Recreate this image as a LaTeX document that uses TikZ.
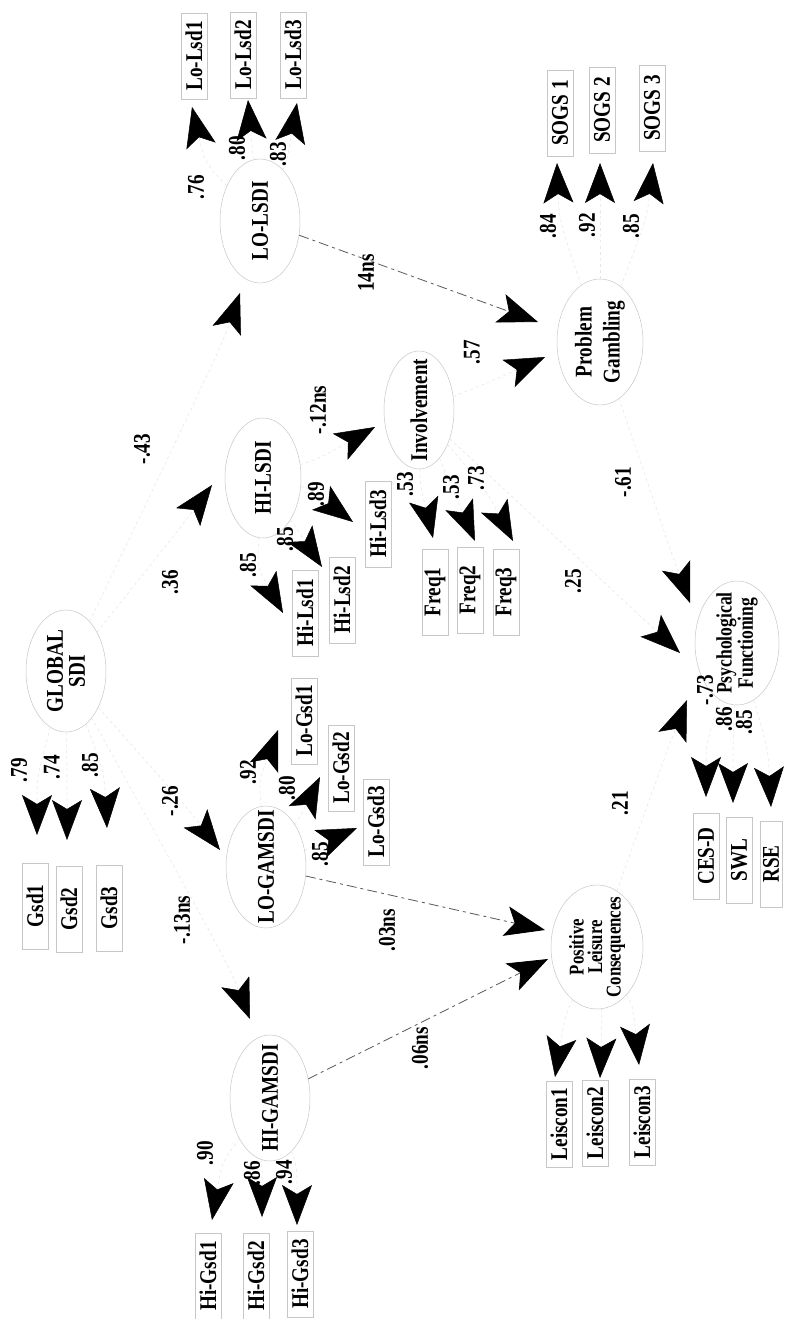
\documentclass[tikz,border=0pt]{standalone}
\usepackage{fontspec}
\setmainfont{Liberation Serif}[FakeStretch=0.8]
\usetikzlibrary{arrows.meta,shapes.geometric}
\begin{document}
\begin{tikzpicture}[x=1pt,y=-1pt,
  txt/.style={rotate=90,font=\bfseries\fontsize{24}{27}\selectfont,inner sep=0pt,align=center},
  small/.style={font=\bfseries\fontsize{21}{18.5}\selectfont},
  obs/.style={txt,draw=black!22,line width=0.5pt,minimum width=86pt,minimum height=26pt},
  lat/.style={rotate=90,ellipse,draw=black!22,line width=0.5pt,inner sep=0pt},
  lab/.style={txt},
  tipc/.style={-{Stealth[length=40pt,width=30pt,inset=9pt,color=black]}},
  conn/.style={tipc,draw=black!10,line width=0.5pt,dashed},
  vis/.style={tipc,draw=black!65,line width=0.8pt,dash pattern=on 10pt off 4pt on 3pt off 4pt}
]
\fill[white] (0,0) rectangle (784,1319);
\useasboundingbox (0,0) rectangle (784,1319);

% latent variables
\node[lat,minimum width=124pt,minimum height=80pt] (LOLSDI) at (260,221) {};
\node[txt] (LOLSDIt) at (LOLSDI) {LO-LSDI};
\node[lat,minimum width=120pt,minimum height=76pt] (HILSDI) at (263,478) {};
\node[txt] (HILSDIt) at (HILSDI) {HI-LSDI};
\node[lat,minimum width=122pt,minimum height=80pt] (GLOBAL) at (66,671) {};
\node[txt,font=\bfseries\fontsize{24}{22}\selectfont] (GLOBALt) at (GLOBAL) {GLOBAL\\SDI};
\node[lat,minimum width=122pt,minimum height=80pt] (LOGAM) at (266,867) {};
\node[txt] (LOGAMt) at (LOGAM) {LO-GAMSDI};
\node[lat,minimum width=126pt,minimum height=80pt] (HIGAM) at (270,1098) {};
\node[txt] (HIGAMt) at (HIGAM) {HI-GAMSDI};
\node[lat,minimum width=118pt,minimum height=70pt] (INV) at (419,410) {};
\node[txt] (INVt) at (INV) {Involvement};
\node[lat,minimum width=126pt,minimum height=86pt] (PG) at (600,342) {};
\node[txt,font=\bfseries\fontsize{24}{28}\selectfont] (PGt) at (PG) {Problem\\Gambling};
\node[lat,minimum width=124pt,minimum height=92pt] (PLC) at (597,947) {};
\node[txt,small] (PLCt) at (PLC) {Positive\\Leisure\\Consequences};
\node[lat,minimum width=124pt,minimum height=84pt] (PF) at (737,643) {};
\node[txt,font=\bfseries\fontsize{22}{19}\selectfont] (PFt) at (PF) {Psychological\\Functioning};

% observed variables
\node[obs] (LoLsd1) at (194,56) {Lo-Lsd1};
\node[obs] (LoLsd2) at (243,55) {Lo-Lsd2};
\node[obs] (LoLsd3) at (293,55) {Lo-Lsd3};
\node[obs] (SOGS1) at (560,113) {SOGS 1};
\node[obs] (SOGS2) at (602,110) {SOGS 2};
\node[obs] (SOGS3) at (652,108) {SOGS 3};
\node[obs] (HiLsd1) at (305,613) {Hi-Lsd1};
\node[obs] (HiLsd2) at (342,600) {Hi-Lsd2};
\node[obs] (HiLsd3) at (378,524) {Hi-Lsd3};
\node[obs] (Freq1) at (435,592) {Freq1};
\node[obs] (Freq2) at (470,590) {Freq2};
\node[obs] (Freq3) at (506,592) {Freq3};
\node[obs] (Gsd1) at (35,906) {Gsd1};
\node[obs] (Gsd2) at (69,909) {Gsd2};
\node[obs] (Gsd3) at (109,908) {Gsd3};
\node[obs] (LoGsd1) at (304,721) {Lo-Gsd1};
\node[obs] (LoGsd2) at (341,768) {Lo-Gsd2};
\node[obs] (LoGsd3) at (376,822) {Lo-Gsd3};
\node[obs] (CESD) at (706,856) {CES-D};
\node[obs] (SWL) at (739,860) {SWL};
\node[obs,minimum height=22pt] (RSE) at (771,864) {RSE};
\node[obs] (Leis1) at (559,1124) {Leiscon1};
\node[obs] (Leis2) at (595,1123) {Leiscon2};
\node[obs] (Leis3) at (642,1122) {Leiscon3};
\node[obs] (HiGsd1) at (208,1276) {Hi-Gsd1};
\node[obs] (HiGsd2) at (256,1276) {Hi-Gsd2};
\node[obs] (HiGsd3) at (300,1274) {Hi-Gsd3};

% arrow tip coordinates
\coordinate (tLL1) at (192,107); \coordinate (tLL2) at (248,100); \coordinate (tLL3) at (297,103);
\coordinate (tS1) at (557,163); \coordinate (tS2) at (600,163); \coordinate (tS3) at (653,163);
\coordinate (tHL1) at (283,613); \coordinate (tHL2) at (322,567); \coordinate (tHL3) at (353,522);
\coordinate (tF1) at (433,538); \coordinate (tF2) at (475,541); \coordinate (tF3) at (513,541);
\coordinate (tG1) at (37,835); \coordinate (tG2) at (67,840); \coordinate (tG3) at (107,828);
\coordinate (tLG1) at (278,730); \coordinate (tLG2) at (320,777); \coordinate (tLG3) at (357,828);
\coordinate (tC1) at (706,797); \coordinate (tC2) at (733,803); \coordinate (tC3) at (771,807);
\coordinate (tL1) at (555,1077); \coordinate (tL2) at (600,1078); \coordinate (tL3) at (639,1065);
\coordinate (tHG1) at (212,1220); \coordinate (tHG2) at (262,1217); \coordinate (tHG3) at (297,1225);
\coordinate (tGLL) at (240,293); \coordinate (tGHL) at (212,485); \coordinate (tGLG) at (220,850); \coordinate (tGHG) at (250,1019);
\coordinate (tLLPG) at (538,322); \coordinate (tINVPG) at (545,357); \coordinate (tHLINV) at (375,427);
\coordinate (tLGPLC) at (545,930); \coordinate (tHGPLC) at (548,959);
\coordinate (tPGPF) at (690,603); \coordinate (tINVPF) at (680,653); \coordinate (tPLCPF) at (687,700);

% measurement paths
\draw[conn] (LOLSDI) .. controls (205,163) .. (tLL1);
\draw[conn] (LOLSDI) .. controls (253,156) .. (tLL2);
\draw[conn] (LOLSDI) .. controls (287,161) .. (tLL3);
\draw[conn] (PG) .. controls (559,219) .. (tS1);
\draw[conn] (PG) .. controls (600,219) .. (tS2);
\draw[conn] (PG) .. controls (647,217) .. (tS3);
\draw[conn] (HILSDI) .. controls (257,567) .. (tHL1);
\draw[conn] (HILSDI) .. controls (292,522) .. (tHL2);
\draw[conn] (HILSDI) .. controls (308,488) .. (tHL3);
\draw[conn] (INV) .. controls (420,484) .. (tF1);
\draw[conn] (INV) .. controls (453,490) .. (tF2);
\draw[conn] (INV) .. controls (486,490) .. (tF3);
\draw[conn] (GLOBAL) .. controls (37,776) .. (tG1);
\draw[conn] (GLOBAL) .. controls (67,781) .. (tG2);
\draw[conn] (GLOBAL) .. controls (104,772) .. (tG3);
\draw[conn] (LOGAM) .. controls (259,781) .. (tLG1);
\draw[conn] (LOGAM) .. controls (300,817) .. (tLG2);
\draw[conn] (LOGAM) .. controls (320,844) .. (tLG3);
\draw[conn] (PF) .. controls (706,744) .. (tC1);
\draw[conn] (PF) .. controls (733,745) .. (tC2);
\draw[conn] (PF) .. controls (768,749) .. (tC3);
\draw[conn] (PLC) .. controls (565,1016) .. (tL1);
\draw[conn] (PLC) .. controls (602,1020) .. (tL2);
\draw[conn] (PLC) .. controls (633,1006) .. (tL3);
\draw[conn] (HIGAM) .. controls (222,1162) .. (tHG1);
\draw[conn] (HIGAM) .. controls (262,1158) .. (tHG2);
\draw[conn] (HIGAM) .. controls (297,1166) .. (tHG3);

% structural paths
\draw[conn] (GLOBAL) .. controls (221,347) .. (tGLL);
\draw[conn] (GLOBAL) .. controls (180,528) .. (tGHL);
\draw[conn] (GLOBAL) .. controls (185,805) .. (tGLG);
\draw[conn] (GLOBAL) .. controls (229,966) .. (tGHG);
\draw[vis] (LOLSDI) -- (tLLPG);
\draw[conn] (INV) .. controls (492,381) .. (tINVPG);
\draw[conn] (HILSDI) .. controls (322,457) .. (tHLINV);
\draw[vis] (LOGAM) -- (tLGPLC);
\draw[vis] (HIGAM) -- (tHGPLC);
\draw[conn] (PG) .. controls (671,552) .. (tPGPF);
\draw[conn] (INV) .. controls (637,613) .. (tINVPF);
\draw[conn] (PLC) .. controls (665,756) .. (tPLCPF);

% coefficient labels
\node[lab] (l1) at (196,187) {.76};
\node[lab] (l2) at (237,148) {.80};
\node[lab] (l3) at (278,154) {.83};
\node[lab] (l4) at (548,226) {.84};
\node[lab] (l5) at (587,225) {.92};
\node[lab] (l6) at (631,226) {.85};
\node[lab] (l7) at (366,273) {14ns};
\node[lab] (l8) at (472,352) {.57};
\node[lab] (l9) at (142,449) {-.43};
\node[lab] (l10) at (318,410) {-.12ns};
\node[lab] (l11) at (170,582) {.36};
\node[lab] (l12) at (248,565) {.85};
\node[lab] (l13) at (285,539) {.85};
\node[lab] (l14) at (316,494) {.89};
\node[lab] (l15) at (405,484) {.53};
\node[lab] (l16) at (451,487) {.53};
\node[lab] (l17) at (476,478) {.73};
\node[lab] (l18) at (623,482) {-.61};
\node[lab] (l19) at (573,581) {.25};
\node[lab] (l20) at (19,770) {.79};
\node[lab] (l21) at (52,767) {.74};
\node[lab] (l22) at (90,765) {.85};
\node[lab] (l23) at (170,801) {-.26};
\node[lab] (l24) at (248,772) {.92};
\node[lab] (l25) at (287,788) {.80};
\node[lab] (l26) at (320,854) {.85};
\node[lab] (l27) at (182,920) {-.13ns};
\node[lab] (l28) at (387,930) {.03ns};
\node[lab] (l29) at (420,1048) {.06ns};
\node[lab] (l30) at (620,803) {.21};
\node[lab] (l31) at (705,690) {-.73};
\node[lab] (l32) at (724,719) {.86};
\node[lab] (l33) at (744,722) {.85};
\node[lab] (l34) at (205,1153) {.90};
\node[lab] (l35) at (252,1173) {.86};
\node[lab] (l36) at (284,1172) {.94};
\end{tikzpicture}
\end{document}
